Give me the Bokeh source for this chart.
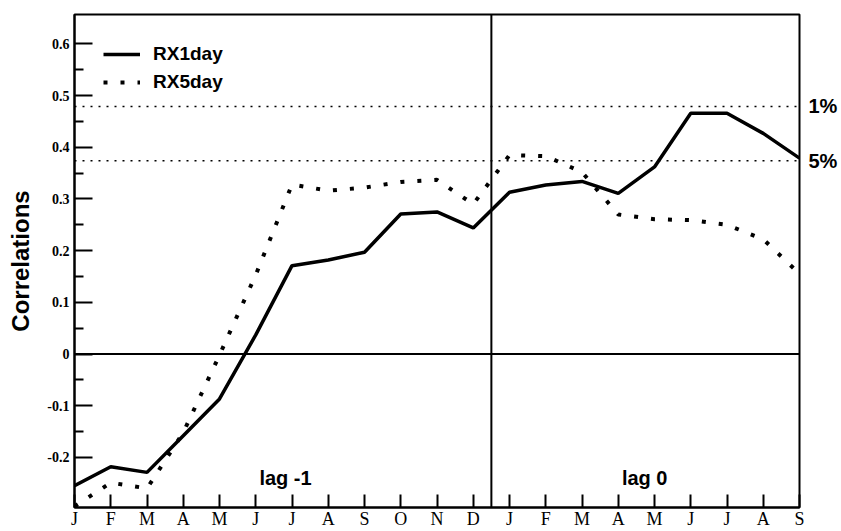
from bokeh.plotting import figure
from bokeh.models import (Range1d, Span, Label, Legend, LegendItem,
                          FixedTicker, LinearAxis)
from bokeh.embed import file_html
from bokeh.resources import INLINE

# Months of the lag -1 year followed by the lag 0 year (Jan..Sep)
months = ["J", "F", "M", "A", "M", "J", "J", "A", "S", "O", "N", "D",
          "J", "F", "M", "A", "M", "J", "J", "A", "S"]
lag1_months = 12

# Correlations of the two precipitation indices
series_names = ["RX1day", "RX5day"]
rx1day = [-0.255, -0.218, -0.229, -0.158, -0.087, 0.037, 0.171, 0.182, 0.197,
          0.271, 0.275, 0.244, 0.313, 0.327, 0.334, 0.311, 0.362, 0.466,
          0.466, 0.427, 0.379]
rx5day = [-0.295, -0.249, -0.260, -0.152, -0.002, 0.153, 0.328, 0.316, 0.322,
          0.333, 0.337, 0.290, 0.385, 0.383, 0.352, 0.270, 0.261, 0.259,
          0.250, 0.222, 0.155]

# Significance thresholds
sig_levels = [0.479, 0.374]
sig_labels = ["1%", "5%"]

lag_labels = ["lag -1", "lag 0"]

y_ticks = [-0.2, -0.1, 0, 0.1, 0.2, 0.3, 0.4, 0.5, 0.6]
y_tick_labels = ["-0.2", "-0.1", "0", "0.1", "0.2", "0.3", "0.4", "0.5", "0.6"]

SANS = "Liberation Sans"
SERIF = "Liberation Serif"

x = list(range(len(months)))
y_min, y_max = -0.297, 0.657

p = figure(width=841, height=531, output_backend="svg", toolbar_location=None,
           x_range=Range1d(0, len(months) - 1), y_range=Range1d(y_min, y_max),
           min_border_left=74, min_border_right=42, min_border_top=14,
           min_border_bottom=24)
p.grid.visible = False
p.background_fill_color = "white"
p.border_fill_color = "white"
p.outline_line_color = "black"
p.outline_line_width = 2

# y axis: inward ticks with half-step minor ticks
minor = [(a + b) / 2 for a, b in zip(y_ticks[:-1], y_ticks[1:])]
yax = p.yaxis[0]
yax.ticker = FixedTicker(ticks=y_ticks, minor_ticks=minor)
yax.major_label_overrides = {t: s for t, s in zip(y_ticks, y_tick_labels)}
yax.major_tick_in = 18
yax.major_tick_out = 0
yax.minor_tick_in = 9
yax.minor_tick_out = 0
yax.major_tick_line_width = 2
yax.minor_tick_line_width = 2
yax.axis_line_width = 2
yax.major_label_standoff = 5
yax.major_label_text_font = SERIF
yax.major_label_text_font_style = "bold"
yax.major_label_text_font_size = "14px"
yax.major_label_text_color = "black"
yax.axis_label = "Correlations"
yax.axis_label_text_font = SANS
yax.axis_label_text_font_style = "bold"
yax.axis_label_text_font_size = "24px"
yax.axis_label_text_color = "black"
yax.axis_label_standoff = 10

# x axis: month ticks pointing into the frame
xax = p.xaxis[0]
xax.ticker = FixedTicker(ticks=x)
xax.major_label_overrides = {i: m for i, m in zip(x, months)}
xax.major_tick_in = 13
xax.major_tick_out = 0
xax.minor_tick_in = 0
xax.minor_tick_out = 0
xax.major_tick_line_width = 2
xax.axis_line_width = 2
xax.major_label_standoff = 1
xax.major_label_text_font = SERIF
xax.major_label_text_font_size = "18px"
xax.major_label_text_color = "black"

# right-hand axis naming the significance levels
rax = LinearAxis(ticker=FixedTicker(ticks=sig_levels, minor_ticks=[]),
                 major_label_overrides={v: s for v, s in zip(sig_levels, sig_labels)},
                 major_tick_in=0, major_tick_out=0, minor_tick_in=0,
                 minor_tick_out=0, axis_line_color=None,
                 major_label_standoff=9, major_label_text_font=SANS,
                 major_label_text_font_style="bold",
                 major_label_text_font_size="20px",
                 major_label_text_color="black")
p.add_layout(rax, "right")

# zero line and the boundary between the two years
p.add_layout(Span(location=0, dimension="width", line_color="black",
                  line_width=2))
p.add_layout(Span(location=lag1_months - 0.5, dimension="height",
                  line_color="black", line_width=2))

# significance levels
for lvl in sig_levels:
    p.add_layout(Span(location=lvl, dimension="width", line_color="black",
                      line_width=1.5, line_dash="2 6"))

r1 = p.line(x, rx1day, line_color="black", line_width=3.5)
r5 = p.line(x, rx5day, line_color="black", line_width=4, line_dash="4 13",
            line_cap="butt")

for lx, lab in zip([5.1, 15.1], lag_labels):
    p.add_layout(Label(x=lx, y=-0.239, text=lab, text_align="left",
                       text_baseline="alphabetic", text_font=SANS,
                       text_font_style="bold", text_font_size="20px",
                       text_color="black"))

legend = Legend(items=[LegendItem(label=series_names[0], renderers=[r1]),
                       LegendItem(label=series_names[1], renderers=[r5])],
                location=(29, 414), glyph_width=37, glyph_height=20,
                label_height=20, spacing=6, label_standoff=13, padding=0,
                margin=0, border_line_color=None, background_fill_alpha=0,
                label_text_font=SANS, label_text_font_style="bold",
                label_text_font_size="19px", label_text_color="black")
p.add_layout(legend)

open("out.html", "w").write(file_html(p, INLINE))
